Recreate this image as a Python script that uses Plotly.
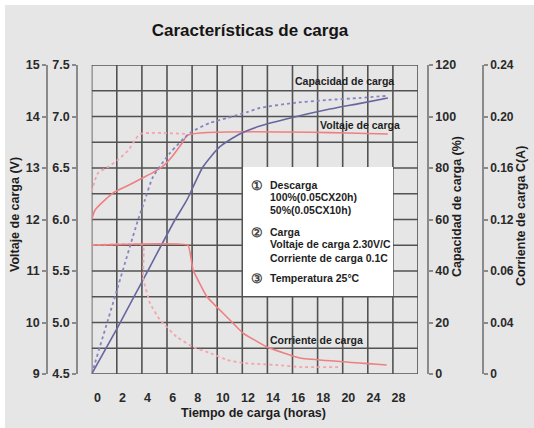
import plotly.graph_objects as go

# eje x en unidades de rejilla (las etiquetas 24 y 28 no son lineales)
x_grid = [0, 2, 4, 6, 8, 10, 12, 14, 16, 18, 20, 22, 24]
x_labels = ["0", "2", "4", "6", "8", "10", "12", "14", "16", "18", "20", "24", "28"]

v_ticks = [4.5, 5.0, 5.5, 6.0, 6.5, 7.0, 7.5]
v_labels = ["4.5", "5.0", "5.5", "6.0", "6.5", "7.0", "7.5"]
v12_ticks = [9, 10, 11, 12, 13, 14, 15]
cap_ticks = [0, 20, 40, 60, 80, 100, 120]
cur_ticks = [0, 0.04, 0.08, 0.12, 0.16, 0.20, 0.24]
cur_labels = ["0", "0.04", "0.06", "0.12", "0.16", "0.20", "0.24"]

# Voltaje de carga
volt100_x = [0, 0.26, 1.06, 1.86, 2.89, 4.0, 4.8, 5.6, 6.4, 7.2, 7.67, 23.6]
volt100_y = [6.0, 6.09, 6.19, 6.27, 6.33, 6.40, 6.45, 6.51, 6.61, 6.74, 6.82, 6.83]
volt50_x = [0, 0.5, 1.3, 2.1, 2.9, 3.45, 3.85, 7.67]
volt50_y = [6.27, 6.45, 6.51, 6.58, 6.67, 6.77, 6.83, 6.83]

# Capacidad de carga (%)
cap100_x = [0, 2.09, 4.08, 6.63, 7.59, 8.86, 10.2, 11.8, 13.4, 16.0, 18.7, 21.4, 23.6]
cap100_y = [0, 18.3, 36.5, 59.8, 67.6, 80.4, 88.2, 93.2, 96.3, 99.6, 102.6, 105.1, 107.2]
cap50_x = [0, 1.85, 3.69, 4.24, 4.88, 6.23, 7.83, 9.42, 10.8, 12.4, 13.4, 16.0, 18.7, 21.4, 23.5]
cap50_y = [0, 30, 59.8, 67.6, 76.5, 85.8, 93.6, 97.5, 99.4, 101.7, 103.3, 105.2, 106.4, 107.2, 108]

# Corriente de carga C(A)
cur100_x = [0, 7.67, 8.07, 9.18, 10.77, 12.05, 13.96, 16.6, 23.5]
cur100_y = [0.1, 0.1, 0.081, 0.060, 0.0443, 0.0318, 0.021, 0.0124, 0.007]
cur50_x = [0, 4.09, 4.09, 4.64, 5.44, 6.79, 8.07, 9.42, 10.8, 12.05, 14.76, 16.6, 19.8]
cur50_y = [0.1, 0.1, 0.075, 0.055, 0.042, 0.0287, 0.021, 0.0163, 0.0109, 0.0085, 0.007, 0.0054, 0.0054]

W, H = 534, 428
L, R, T, B = 91.7, 418, 65, 374


def px(x):
    return x / W


def py(y):
    return (B - y) / (B - T)


red = "#ef7f80"
pink = "#f5a3ac"
blue = "#67679f"
lblue = "#8585c2"
grid = "#525252"
axc = "#8a8a8a"
txt = "#1e1e1e"
font = "Liberation Sans, Arial, sans-serif"


def curve(x, y, color, dot, axis, smooth=0.6):
    return go.Scatter(x=x, y=y, mode="lines", yaxis=axis, hoverinfo="skip",
                      line=dict(color=color, width=1.8 if dot else 1.6, dash="dot" if dot else "solid",
                                shape="spline", smoothing=smooth))


fig = go.Figure()
fig.add_trace(curve(volt50_x, volt50_y, pink, True, "y"))
fig.add_trace(curve(volt100_x, volt100_y, red, False, "y"))
# misma curva en la escala de 12 V (solo para que se dibuje el eje)
fig.add_scatter(x=volt100_x, y=[2 * v for v in volt100_y], mode="lines", line=dict(color="rgba(0,0,0,0)"),
                yaxis="y2", hoverinfo="skip")
fig.add_trace(curve(cap50_x, cap50_y, lblue, True, "y3"))
fig.add_trace(curve(cap100_x, cap100_y, blue, False, "y3"))
fig.add_trace(curve(cur50_x, cur50_y, pink, True, "y4", 0.3))
fig.add_trace(curve(cur100_x, cur100_y, red, False, "y4", 0.3))

shapes = [dict(type="rect", xref="paper", yref="paper", x0=px(5), x1=1, y0=py(H), y1=py(5),
               fillcolor="#e6e6e6", line_width=0, layer="below")]
for g in x_grid + [26]:
    shapes.append(dict(type="line", xref="x", yref="y", x0=g, x1=g, y0=4.5, y1=7.5,
                       line=dict(color=grid, width=1.6), layer="below"))
for k in range(13):
    v = 4.5 + 0.25 * k
    shapes.append(dict(type="line", xref="x", yref="y", x0=0, x1=26, y0=v, y1=v,
                       line=dict(color=grid, width=1.6), layer="below"))
shapes.append(dict(type="rect", xref="paper", yref="paper", x0=px(243), x1=px(393), y0=py(296), y1=py(167),
                   fillcolor="white", line_width=0, layer="above"))

ann = []


def text(x, y, s, size=10.5, xanchor="left", angle=0, color=txt):
    ann.append(dict(x=px(x), y=py(y), xref="paper", yref="paper", text=s, showarrow=False,
                    xanchor=xanchor, yanchor="middle", textangle=angle,
                    font=dict(family=font, size=size, color=color, weight="bold")))


text(344, 81, "Capacidad de carga", xanchor="center")
text(360, 125, "Voltaje de carga", xanchor="center")
text(316, 340, "Corriente de carga", xanchor="center")
text(253, 413, "Tiempo de carga (horas)", size=12.5, xanchor="center")
text(15, 215, "Voltaje de carga (V)", size=12.5, xanchor="center", angle=-90)
text(457, 207, "Capacidad de carga (%)", size=12.5, xanchor="center", angle=-90)
text(521, 216, "Corriente de carga C(A)", size=12.5, xanchor="center", angle=-90)

legend_lines = [(185, "Descarga"), (197, "100%(0.05CX20h)"), (210, "50%(0.05CX10h)"),
                (232, "Carga"), (244, "Voltaje de carga 2.30V/C"), (258, "Corriente de carga 0.1C"),
                (278, "Temperatura 25°C")]
for y, s in legend_lines:
    text(268, y, s)
for y, s in [(185, "①"), (232, "②"), (278, "③")]:
    text(257, y, s, size=13, xanchor="center", color="#444")

tickfont = dict(family=font, size=12.5, color="#2a2a2a", weight="bold")
yax = dict(showgrid=False, zeroline=False, showline=True, linecolor=axc, linewidth=1.5,
           ticks="outside", ticklen=4, tickcolor=axc, tickwidth=1.5, tickfont=tickfont)

fig.update_layout(
    width=W, height=H,
    margin=dict(l=0, r=0, t=T, b=H - B),
    paper_bgcolor="white", plot_bgcolor="rgba(0,0,0,0)",
    showlegend=False,
    title=dict(text="Características de carga", x=px(250), xanchor="center", y=1 - 30 / H, yanchor="middle",
               font=dict(family=font, size=17, color="#151515", weight="bold")),
    xaxis=dict(domain=[px(L), px(R)], range=[0, 26], showgrid=False, zeroline=False, showline=False,
               tickvals=[g + 0.45 for g in x_grid], ticktext=x_labels, ticks="outside", ticklen=12,
               tickcolor="rgba(0,0,0,0)", tickfont=tickfont),
    yaxis=dict(yax, range=[4.5, 7.5], tickvals=v_ticks, ticktext=v_labels, anchor="free", position=px(77), side="left"),
    yaxis2=dict(yax, range=[9, 15], tickvals=v12_ticks, anchor="free", position=px(47), side="left", overlaying="y"),
    yaxis3=dict(yax, range=[0, 120], tickvals=cap_ticks, anchor="free", position=px(428), side="right", overlaying="y"),
    yaxis4=dict(yax, range=[0, 0.24], tickvals=cur_ticks, ticktext=cur_labels, anchor="free", position=px(483),
                side="right", overlaying="y", tickfont=dict(tickfont, size=12)),
    shapes=shapes,
    annotations=ann,
)
fig.write_html("out.html", config={"displayModeBar": False},
               post_script="document.body.style.margin='0';")
